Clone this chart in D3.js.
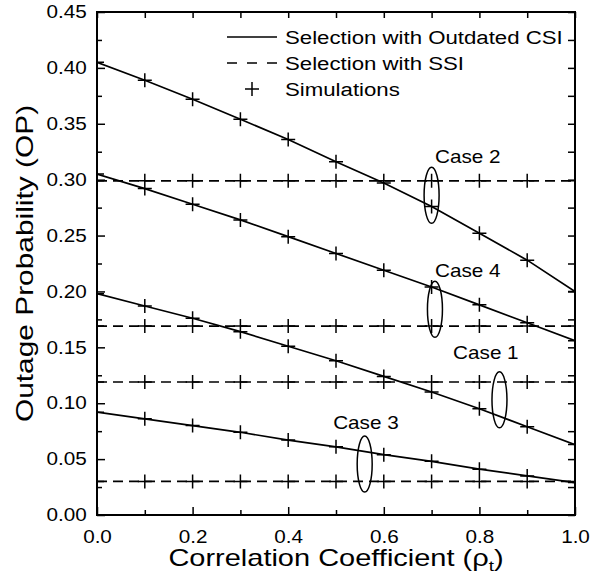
<!DOCTYPE html>
<html>
<head>
<meta charset="utf-8">
<script src="https://cdn.jsdelivr.net/npm/d3@7"></script>
<style>
  body { margin: 0; background: #fff; }
  text { font-family: "Liberation Sans", Arial, sans-serif; fill: #000; }
</style>
</head>
<body>
<div id="chart"></div>
<script>
// correlation coefficient values
const rho = [0, 0.1, 0.2, 0.3, 0.4, 0.5, 0.6, 0.7, 0.8, 0.9, 1.0]

// selection with outdated CSI, one array per case
const case1Csi = [0.198, 0.187, 0.176, 0.164, 0.151, 0.138, 0.124, 0.110, 0.095, 0.079, 0.063]
const case2Csi = [0.405, 0.389, 0.372, 0.354, 0.336, 0.316, 0.297, 0.276, 0.252, 0.228, 0.200]
const case3Csi = [0.092, 0.086, 0.080, 0.074, 0.067, 0.061, 0.054, 0.048, 0.041, 0.035, 0.029]
const case4Csi = [0.305, 0.292, 0.278, 0.264, 0.249, 0.234, 0.219, 0.204, 0.188, 0.172, 0.156]

// selection with SSI (flat)
const case1Ssi = 0.119
const case2Ssi = 0.299
const case3Ssi = 0.030
const case4Ssi = 0.169

// case annotations: label, label position, ellipse centre (data units)
const caseNames = ["Case 1", "Case 2", "Case 3", "Case 4"]
const labelRho = [0.745, 0.707, 0.494, 0.707]
const labelOp = [0.140, 0.315, 0.077, 0.213]
const ellipseRho = [0.842, 0.700, 0.560, 0.707]
const ellipseOp = [0.103, 0.286, 0.0456, 0.184]

const xTickVals = [0, 0.2, 0.4, 0.6, 0.8, 1.0]
const xMinorVals = [0.1, 0.3, 0.5, 0.7, 0.9]
const yTickVals = [0, 0.05, 0.10, 0.15, 0.20, 0.25, 0.30, 0.35, 0.40, 0.45]
const yMinorVals = [0.025, 0.075, 0.125, 0.175, 0.225, 0.275, 0.325, 0.375, 0.425]

const legendNames = ["Selection with Outdated CSI", "Selection with SSI", "Simulations"]

// ----------------------------------------------------------

//medidas
const width = 607
const height = 579
const margin = { top: 12, bottom: 64, right: 32, left: 97 }
const innerW = width - margin.left - margin.right
const innerH = height - margin.top - margin.bottom
const sx = 1.15 // horizontal stretch of the original fonts

const svg = d3.select("#chart").append("svg").attr("width", width).attr("height", height)
const g = svg.append("g").attr("transform", `translate(${margin.left}, ${margin.top})`)

svg.append("defs").append("clipPath").attr("id", "clip")
  .append("rect").attr("width", innerW).attr("height", innerH)

//escalas
const x = d3.scaleLinear().domain([0, 1]).range([0, innerW])
const y = d3.scaleLinear().domain([0, 0.45]).range([innerH, 0])

//ejes
const stretch = sel => sel.selectAll("text").attr("transform", `scale(${sx},1)`)

g.append("g").attr("transform", `translate(0, ${innerH})`)
  .call(d3.axisBottom(x).tickValues(xTickVals).tickFormat(d3.format(".1f")).tickSizeInner(-8).tickSizeOuter(0).tickPadding(15))
  .call(stretch)
g.append("g").attr("transform", `translate(0, ${innerH})`)
  .call(d3.axisBottom(x).tickValues(xMinorVals).tickFormat("").tickSizeInner(-5).tickSizeOuter(0))
g.append("g")
  .call(d3.axisTop(x).tickValues(xTickVals.concat(xMinorVals)).tickFormat("").tickSizeInner(-6).tickSizeOuter(0))

g.append("g")
  .call(d3.axisLeft(y).tickValues(yTickVals).tickFormat(d3.format(".2f")).tickSizeInner(-8).tickSizeOuter(0).tickPadding(9))
  .call(stretch)
g.append("g")
  .call(d3.axisLeft(y).tickValues(yMinorVals).tickFormat("").tickSizeInner(-5).tickSizeOuter(0))
g.append("g").attr("transform", `translate(${innerW}, 0)`)
  .call(d3.axisRight(y).tickValues(yTickVals.concat(yMinorVals)).tickFormat("").tickSizeInner(-7).tickSizeOuter(0))

g.selectAll(".domain").remove()
g.selectAll(".tick line").attr("stroke", "#000").attr("stroke-width", 1.5)
g.selectAll(".tick text").attr("font-size", 18).attr("font-family", "Liberation Sans, Arial, sans-serif")

//curvas
const plot = g.append("g").attr("clip-path", "url(#clip)")
const line = d3.line().x((d, i) => x(rho[i])).y(d => y(d))

const csiSeries = [case1Csi, case2Csi, case3Csi, case4Csi]
const ssiSeries = [case1Ssi, case2Ssi, case3Ssi, case4Ssi].map(v => rho.map(() => v))

plot.selectAll(".csi").data(csiSeries).enter().append("path")
  .attr("class", "csi").attr("d", line)
  .attr("fill", "none").attr("stroke", "#000").attr("stroke-width", 1.7)

plot.selectAll(".ssi").data(ssiSeries).enter().append("path")
  .attr("class", "ssi").attr("d", line)
  .attr("fill", "none").attr("stroke", "#000").attr("stroke-width", 1.7).attr("stroke-dasharray", "10,6")

//simulaciones (cruces)
const cross = (px, py) => `M${px - 7},${py}H${px + 7}M${px},${py - 7}V${py + 7}`
const simPoints = []
csiSeries.concat(ssiSeries).forEach(s => s.forEach((v, i) => simPoints.push([rho[i], v])))
plot.append("path")
  .attr("d", simPoints.map(p => cross(x(p[0]), y(p[1]))).join(""))
  .attr("fill", "none").attr("stroke", "#000").attr("stroke-width", 1.5)

//elipses y etiquetas
caseNames.forEach((name, i) => {
  g.append("ellipse")
    .attr("cx", x(ellipseRho[i])).attr("cy", y(ellipseOp[i]))
    .attr("rx", 7.5).attr("ry", 28)
    .attr("fill", "none").attr("stroke", "#000").attr("stroke-width", 1.5)
  g.append("text").text(name)
    .attr("transform", `translate(${x(labelRho[i])}, ${y(labelOp[i])}) scale(${sx},1)`)
    .attr("font-size", 18)
})

//marco
g.append("rect").attr("width", innerW).attr("height", innerH)
  .attr("fill", "none").attr("stroke", "#000").attr("stroke-width", 2)

//leyenda
const legend = svg.append("g").attr("transform", "translate(227, 37)")
legendNames.forEach((name, i) => {
  const row = legend.append("g").attr("transform", `translate(0, ${i * 26})`)
  if (i === 0) row.append("line").attr("x1", 0).attr("x2", 50).attr("stroke", "#000").attr("stroke-width", 1.6)
  if (i === 1) row.append("line").attr("x1", 0).attr("x2", 50).attr("stroke", "#000").attr("stroke-width", 1.6).attr("stroke-dasharray", "10,10")
  if (i === 2) row.append("path").attr("d", cross(25, 0)).attr("stroke", "#000").attr("stroke-width", 1.5)
  row.append("text").text(name)
    .attr("transform", `translate(58, 7) scale(1.17,1)`)
    .attr("font-size", 19)
})

//titulos de ejes
svg.append("text")
  .attr("transform", `translate(${margin.left + innerW / 2}, 566) scale(1.26,1)`)
  .attr("text-anchor", "middle").attr("font-size", 23)
  .html("Correlation Coefficient (ρ<tspan font-size='15' dy='5'>t</tspan><tspan dy='-5'>)</tspan>")

svg.append("text")
  .attr("transform", `translate(33, ${margin.top + innerH / 2}) rotate(-90) scale(1.3,1)`)
  .attr("text-anchor", "middle").attr("font-size", 23)
  .text("Outage Probability (OP)")
</script>
</body>
</html>
